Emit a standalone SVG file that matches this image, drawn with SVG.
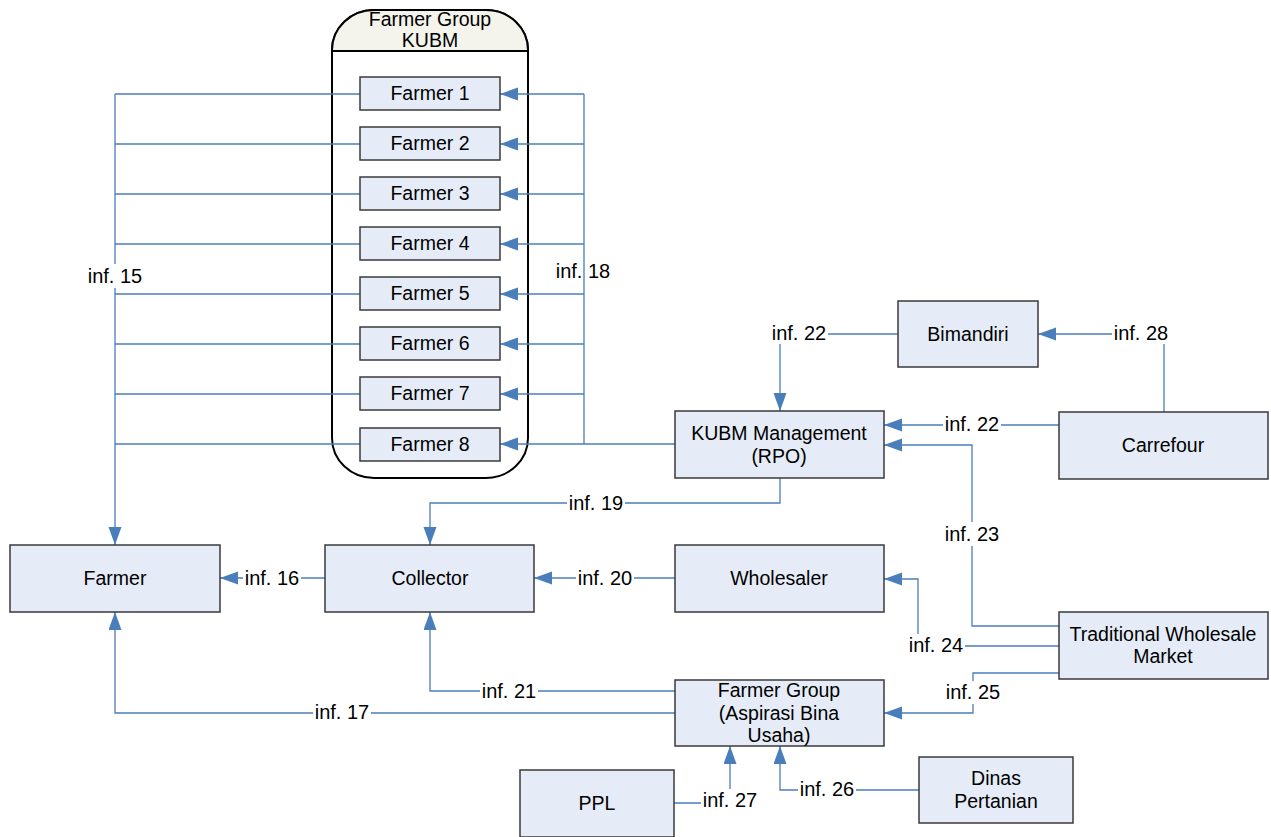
<svg xmlns="http://www.w3.org/2000/svg" width="1271" height="837" viewBox="0 0 1271 837">
  <style>
    .box { fill: #e6ecf7; stroke: #3a3a3a; stroke-width: 1.5; }
    .t { font-family: "Liberation Sans", Arial, sans-serif; font-size: 19.5px; fill: #000; text-anchor: middle; }
    .l { font-size: 20px; }
    .bg { fill: #fff; }
    .c { fill: none; stroke: #4a7ebb; stroke-width: 1.3; }
    .a { marker-end: url(#arrow); }
  </style>
  <defs>
    <marker id="arrow" markerUnits="userSpaceOnUse" markerWidth="19" markerHeight="14" refX="18" refY="6.5" orient="auto">
      <path d="M0,0 L18,6.5 L0,13 Z" fill="#4a7ebb"/>
    </marker>
  </defs>
  <rect width="1271" height="837" fill="#fff"/>

  <!-- KUBM farmer group container -->
  <g id="kubm-group">
    <rect x="332" y="10" width="196" height="468" rx="42" ry="40" fill="#fff" stroke="#000" stroke-width="2"/>
    <path d="M332,51 V50 A42,40 0 0 1 374,10 H486 A42,40 0 0 1 528,50 V51 Z" fill="#f4f4ec" stroke="#000" stroke-width="2"/>
    <text class="t" x="430" y="26">Farmer Group</text>
    <text class="t" x="430" y="47">KUBM</text>
  </g>

  <!-- connectors -->
  <g id="connectors">
    <!-- inf. 15: farmers 1-8 to Farmer -->
    <path class="c" d="M360,94 H115 M360,144 H115 M360,194 H115 M360,244 H115 M360,294 H115 M360,344 H115 M360,394 H115 M360,444 H115"/>
    <path class="c a" d="M115,94 V545"/>
    <!-- inf. 18: KUBM Management to farmers 1-8 -->
    <path class="c" d="M675,444 H584 M584,94 V444"/>
    <path class="c a" d="M584,94 H500"/>
    <path class="c a" d="M584,144 H500"/>
    <path class="c a" d="M584,194 H500"/>
    <path class="c a" d="M584,244 H500"/>
    <path class="c a" d="M584,294 H500"/>
    <path class="c a" d="M584,344 H500"/>
    <path class="c a" d="M584,394 H500"/>
    <path class="c a" d="M584,444 H500"/>
    <!-- inf. 22: Bimandiri to KUBM Management -->
    <path class="c a" d="M898,334 H780 V411"/>
    <!-- inf. 28: Carrefour to Bimandiri -->
    <path class="c a" d="M1164,412 V334 H1038"/>
    <!-- inf. 22: Carrefour to KUBM Management -->
    <path class="c a" d="M1059,425 H884"/>
    <!-- inf. 23: Traditional Wholesale Market to KUBM Management -->
    <path class="c a" d="M1059,626 H972 V445 H884"/>
    <!-- inf. 24: Traditional Wholesale Market to Wholesaler -->
    <path class="c a" d="M1059,646 H918 V579 H884"/>
    <!-- inf. 25: Traditional Wholesale Market to Farmer Group -->
    <path class="c a" d="M1059,673 H973 V713 H884"/>
    <!-- inf. 19: KUBM Management to Collector -->
    <path class="c a" d="M780,478 V503 H430 V545"/>
    <!-- inf. 16: Collector to Farmer -->
    <path class="c a" d="M325,578 H220"/>
    <!-- inf. 20: Wholesaler to Collector -->
    <path class="c a" d="M675,578 H534"/>
    <!-- inf. 21: Farmer Group to Collector -->
    <path class="c a" d="M675,691 H430 V612"/>
    <!-- inf. 17: Farmer Group to Farmer -->
    <path class="c a" d="M675,713 H115 V612"/>
    <!-- inf. 27: PPL to Farmer Group -->
    <path class="c a" d="M674,803 H730 V746"/>
    <!-- inf. 26: Dinas Pertanian to Farmer Group -->
    <path class="c a" d="M919,790 H780 V746"/>

    <!-- labels; most sit on a white ground so the line breaks behind them -->
    <rect class="bg" x="86" y="264" width="58" height="24"/><text class="t l" x="115" y="283">inf. 15</text>
    <text class="t l" x="583" y="278">inf. 18</text>
    <rect class="bg" x="770" y="323" width="58" height="21"/><text class="t l" x="799" y="340">inf. 22</text>
    <rect class="bg" x="1112" y="323" width="58" height="21"/><text class="t l" x="1141" y="340">inf. 28</text>
    <rect class="bg" x="943" y="414" width="58" height="21"/><text class="t l" x="972" y="431">inf. 22</text>
    <rect class="bg" x="567" y="493" width="58" height="21"/><text class="t l" x="596" y="510">inf. 19</text>
    <rect class="bg" x="943" y="522" width="58" height="24"/><text class="t l" x="972" y="541">inf. 23</text>
    <rect class="bg" x="243" y="568" width="58" height="21"/><text class="t l" x="272" y="585">inf. 16</text>
    <rect class="bg" x="576" y="568" width="58" height="21"/><text class="t l" x="605" y="585">inf. 20</text>
    <rect class="bg" x="907" y="634" width="58" height="23"/><text class="t l" x="936" y="652">inf. 24</text>
    <rect class="bg" x="944" y="681" width="58" height="23"/><text class="t l" x="973" y="699">inf. 25</text>
    <rect class="bg" x="480" y="681" width="58" height="21"/><text class="t l" x="509" y="698">inf. 21</text>
    <rect class="bg" x="313" y="702" width="58" height="21"/><text class="t l" x="342" y="719">inf. 17</text>
    <rect class="bg" x="701" y="789" width="58" height="23"/><text class="t l" x="730" y="807">inf. 27</text>
    <rect class="bg" x="798" y="779" width="58" height="21"/><text class="t l" x="827" y="796">inf. 26</text>
  </g>

  <!-- farmers inside the group -->
  <g id="farmer-1"><rect class="box" x="360" y="77" width="140" height="33"/><text class="t" x="430" y="100">Farmer 1</text></g>
  <g id="farmer-2"><rect class="box" x="360" y="127" width="140" height="33"/><text class="t" x="430" y="150">Farmer 2</text></g>
  <g id="farmer-3"><rect class="box" x="360" y="177" width="140" height="33"/><text class="t" x="430" y="200">Farmer 3</text></g>
  <g id="farmer-4"><rect class="box" x="360" y="227" width="140" height="33"/><text class="t" x="430" y="250">Farmer 4</text></g>
  <g id="farmer-5"><rect class="box" x="360" y="277" width="140" height="33"/><text class="t" x="430" y="300">Farmer 5</text></g>
  <g id="farmer-6"><rect class="box" x="360" y="327" width="140" height="33"/><text class="t" x="430" y="350">Farmer 6</text></g>
  <g id="farmer-7"><rect class="box" x="360" y="377" width="140" height="33"/><text class="t" x="430" y="400">Farmer 7</text></g>
  <g id="farmer-8"><rect class="box" x="360" y="428" width="140" height="33"/><text class="t" x="430" y="451">Farmer 8</text></g>

  <!-- actors -->
  <g id="farmer"><rect class="box" x="10" y="545" width="210" height="67"/><text class="t" x="115" y="585">Farmer</text></g>
  <g id="collector"><rect class="box" x="325" y="545" width="209" height="67"/><text class="t" x="430" y="585">Collector</text></g>
  <g id="wholesaler"><rect class="box" x="675" y="545" width="209" height="67"/><text class="t" x="779" y="585">Wholesaler</text></g>
  <g id="kubm-management"><rect class="box" x="675" y="411" width="209" height="67"/><text class="t" x="779" y="440">KUBM Management</text><text class="t" x="779" y="463">(RPO)</text></g>
  <g id="bimandiri"><rect class="box" x="898" y="301" width="140" height="66"/><text class="t" x="968" y="341">Bimandiri</text></g>
  <g id="carrefour"><rect class="box" x="1059" y="412" width="209" height="67"/><text class="t" x="1163" y="452">Carrefour</text></g>
  <g id="traditional-wholesale-market"><rect class="box" x="1059" y="612" width="209" height="67"/><text class="t" x="1163" y="641">Traditional Wholesale</text><text class="t" x="1163" y="663">Market</text></g>
  <g id="farmer-group-abu"><rect class="box" x="675" y="680" width="209" height="66"/><text class="t" x="779" y="697">Farmer Group</text><text class="t" x="779" y="720">(Aspirasi Bina</text><text class="t" x="779" y="742">Usaha)</text></g>
  <g id="ppl"><rect class="box" x="520" y="770" width="154" height="67"/><text class="t" x="597" y="810">PPL</text></g>
  <g id="dinas-pertanian"><rect class="box" x="919" y="757" width="154" height="66"/><text class="t" x="996" y="785">Dinas</text><text class="t" x="996" y="808">Pertanian</text></g>
</svg>
